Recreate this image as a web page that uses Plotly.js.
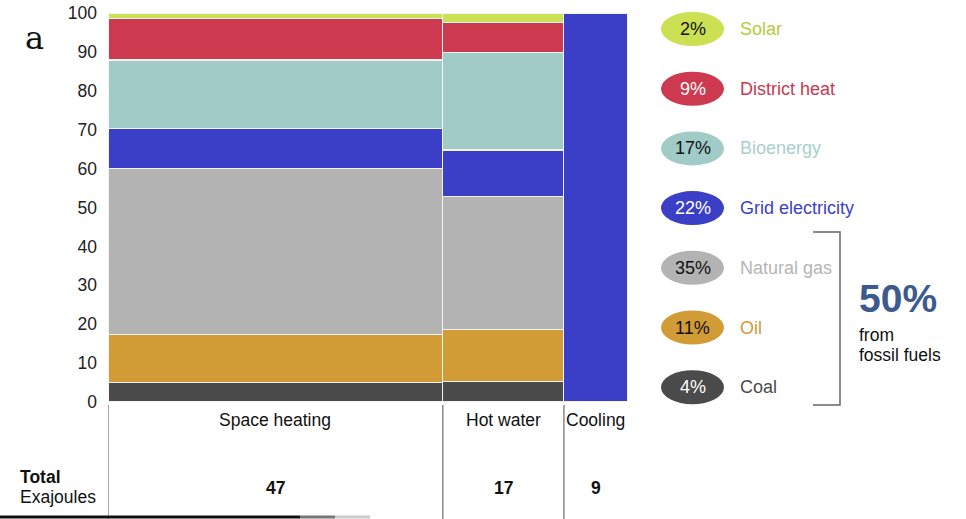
<!DOCTYPE html>
<html>
<head>
<meta charset="utf-8">
<script src="https://cdn.plot.ly/plotly-3.0.1.min.js"></script>
<style>html,body{margin:0;padding:0;background:#fff;}#chart{width:966px;height:519px;}</style>
</head>
<body>
<div id="chart"></div>
<script>
// ---- data ----
const categories = ["Space heating", "Hot water", "Cooling"];
const totals = [47, 17, 9]; // exajoules (column widths)
const fuels = ["Coal", "Oil", "Natural gas", "Grid electricity", "Bioenergy", "District heat", "Solar"];
const coal     = [5.0, 5.2, null];
const oil      = [12.4, 13.5, null];
const gas      = [42.7, 34.1, null];
const grid     = [10.3, 12.0, 100];
const bio      = [17.5, 25.1, null];
const district = [10.6, 7.6, null];
const solar    = [1.5, 2.5, null];
const shares   = ["4%", "11%", "35%", "22%", "17%", "9%", "2%"];
const fossilShare = "50%";

// ---- styles ----
const fillColors = ["#4b4b4b", "#d19b35", "#b3b3b3", "#3b3fc8", "#a0cbc7", "#cd3a50", "#cbe052"];
const nameColors = ["#4b4b4b", "#d19b35", "#b5b5b5", "#3b3fc4", "#a8d0cc", "#c8384f", "#b5cc3a"];
const shareTextColors = ["#ffffff", "#111111", "#111111", "#ffffff", "#111111", "#ffffff", "#111111"];
const series = [coal, oil, gas, grid, bio, district, solar];
const FONT = "Liberation Sans, Arial, sans-serif";

// column geometry from totals
const lefts = [];
let acc = 0;
totals.forEach(t => { lefts.push(acc); acc += t; });
const sumTotal = acc;
const centers = totals.map((t, i) => lefts[i] + t / 2);

const traces = series.map((vals, k) => ({
  type: "bar",
  name: fuels[k],
  x: centers,
  y: vals,
  width: totals,
  marker: { color: fillColors[k], line: { color: "#f4f4f4", width: 1.2 } },
  hoverinfo: "name+y",
  showlegend: false
}));

// plot area in pixels
const W = 966, H = 519;
const L = 108, R = 628, T = 13, B = 402;
const pw = R - L, ph = B - T;
const px = x => (x - L) / pw;      // pixel -> paper x
const py = y => (B - y) / ph;      // pixel -> paper y

const shapes = [];
const annotations = [];

// separators below plot
lefts.forEach(lx => {
  shapes.push({ type: "line", xref: "x", yref: "paper", x0: lx, x1: lx, y0: py(405), y1: py(519),
    line: { color: "#8a8a8a", width: 1.5 } });
});

// category labels and totals
categories.forEach((c, i) => {
  annotations.push({ xref: "x", yref: "paper", x: centers[i], y: py(420), text: c, showarrow: false,
    xanchor: "center", yanchor: "middle", font: { family: FONT, size: 17.5, color: "#111" } });
  annotations.push({ xref: "x", yref: "paper", x: centers[i], y: py(488), text: "<b>" + totals[i] + "</b>", showarrow: false,
    xanchor: "center", yanchor: "middle", font: { family: FONT, size: 17.5, color: "#111" } });
});
annotations.push({ xref: "paper", yref: "paper", x: px(18), y: py(477), text: "<b>Total</b>", showarrow: false,
  xanchor: "left", yanchor: "middle", font: { family: FONT, size: 17.5, color: "#111" } });
annotations.push({ xref: "paper", yref: "paper", x: px(18), y: py(497), text: "Exajoules", showarrow: false,
  xanchor: "left", yanchor: "middle", font: { family: FONT, size: 17.5, color: "#111" } });

// stray letter at top-left
annotations.push({ xref: "paper", yref: "paper", x: px(34), y: py(38), text: "a", showarrow: false,
  xanchor: "center", yanchor: "middle", font: { family: "DejaVu Serif, Liberation Serif, serif", size: 32, color: "#111" } });

// bottom rule
shapes.push({ type: "line", xref: "paper", yref: "paper", x0: px(0), x1: px(300), y0: py(517), y1: py(517),
  line: { color: "#111", width: 3 } });
shapes.push({ type: "line", xref: "paper", yref: "paper", x0: px(300), x1: px(335), y0: py(517), y1: py(517),
  line: { color: "#777", width: 3 } });
shapes.push({ type: "line", xref: "paper", yref: "paper", x0: px(335), x1: px(370), y0: py(517), y1: py(517),
  line: { color: "#cccccc", width: 3 } });

// legend: top to bottom = solar ... coal
const legendCY0 = 29, legendStep = 59.7;
for (let j = 0; j < fuels.length; j++) {
  const k = fuels.length - 1 - j;
  const cy = legendCY0 + j * legendStep;
  shapes.push({ type: "circle", xref: "paper", yref: "paper",
    x0: px(661), x1: px(724), y0: py(cy + 17), y1: py(cy - 17),
    fillcolor: fillColors[k], line: { width: 0 } });
  annotations.push({ xref: "paper", yref: "paper", x: px(692.5), y: py(cy), text: shares[k], showarrow: false,
    xanchor: "center", yanchor: "middle", font: { family: FONT, size: 18, color: shareTextColors[k] } });
  annotations.push({ xref: "paper", yref: "paper", x: px(738), y: py(cy), text: fuels[k], showarrow: false,
    xanchor: "left", yanchor: "middle", font: { family: FONT, size: 18, color: nameColors[k] } });
}

// bracket for fossil fuels
shapes.push({ type: "path", xref: "paper", yref: "paper",
  path: "M " + px(813) + " " + py(232) + " L " + px(840) + " " + py(232) + " L " + px(840) + " " + py(405) + " L " + px(813) + " " + py(405),
  line: { color: "#666", width: 1.5 } });
annotations.push({ xref: "paper", yref: "paper", x: px(857), y: py(298), text: "<b>" + fossilShare + "</b>", showarrow: false,
  xanchor: "left", yanchor: "middle", font: { family: FONT, size: 39, color: "#3d5a8f" } });
annotations.push({ xref: "paper", yref: "paper", x: px(857), y: py(335), text: "from", showarrow: false,
  xanchor: "left", yanchor: "middle", font: { family: FONT, size: 17.5, color: "#111" } });
annotations.push({ xref: "paper", yref: "paper", x: px(857), y: py(355), text: "fossil fuels", showarrow: false,
  xanchor: "left", yanchor: "middle", font: { family: FONT, size: 17.5, color: "#111" } });

const layout = {
  width: W, height: H,
  margin: { l: L, r: W - R, t: T, b: H - B, pad: 0 },
  paper_bgcolor: "#fff", plot_bgcolor: "#fff",
  barmode: "stack",
  bargap: 0,
  xaxis: { range: [0, sumTotal], showticklabels: false, showgrid: false, zeroline: false, showline: false, ticks: "", fixedrange: true },
  yaxis: { range: [0, 100], tickvals: [0,10,20,30,40,50,60,70,80,90,100], showgrid: false, zeroline: false, showline: false,
    ticks: "", ticklabelstandoff: 10, tickfont: { family: FONT, size: 17.5, color: "#222" }, fixedrange: true },
  shapes: shapes,
  annotations: annotations,
  showlegend: false
};

Plotly.newPlot("chart", traces, layout, { displayModeBar: false, staticPlot: true });
</script>
</body>
</html>
